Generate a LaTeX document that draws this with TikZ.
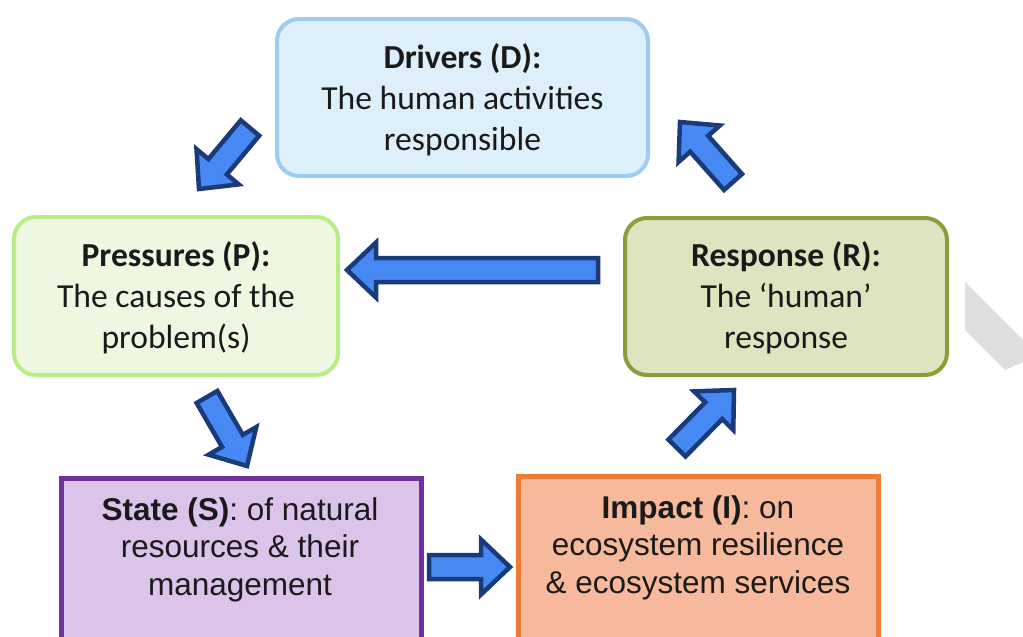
\documentclass[tikz,border=0pt]{standalone}
\usepackage{fontspec}
\setmainfont{Carlito}
\newfontfamily\arialf{Liberation Sans}
\usetikzlibrary{calc}
\definecolor{arrfill}{HTML}{4689F3}
\definecolor{arrdraw}{HTML}{1B3A7A}
\definecolor{dfill}{HTML}{DDEFFB}
\definecolor{ddraw}{HTML}{9DCBF2}
\definecolor{pfill}{HTML}{EEF8E0}
\definecolor{pdraw}{HTML}{B8EC86}
\definecolor{rfill}{HTML}{DFE3C0}
\definecolor{rdraw}{HTML}{8F9C3A}
\definecolor{sfill}{HTML}{DCC3EA}
\definecolor{sdraw}{HTML}{7030A0}
\definecolor{ifill}{HTML}{F6B99B}
\definecolor{idraw}{HTML}{EE7D33}
\definecolor{wmark}{HTML}{DEDEDE}
\definecolor{txt}{HTML}{1A1A1A}
\tikzset{
  rbox/.style={draw, line width=4pt, rounded corners=22pt, inner sep=0pt},
  sbox/.style={draw, line width=5pt, inner sep=0pt},
  ctext/.style={align=center, text=txt, font=\fontsize{33.6}{41}\selectfont},
  atext/.style={align=center, text=txt, font=\arialf\fontsize{31.5}{37.5}\selectfont},
  blockarr/.style={fill=arrfill, draw=arrdraw, line width=4.5pt, line join=miter},
}
\newcommand\blockarrow[2]{%
  \coordinate (#1h) at ($(#2)!29pt!(#1)$);
  \draw[blockarr] ($(#1)!12pt!90:(#2)$) -- ($(#1h)!12pt!90:(#2)$) -- ($(#1h)!27.5pt!90:(#2)$) -- (#2)
    -- ($(#1h)!27.5pt!-90:(#2)$) -- ($(#1h)!12pt!-90:(#2)$) -- ($(#1)!12pt!-90:(#2)$) -- cycle;
}
\begin{document}
\begin{tikzpicture}[x=1pt,y=-1pt]
\useasboundingbox (0,0) rectangle (1023,637);
\clip (0,0) rectangle (1023,637);
\fill[white] (0,0) rectangle (1023,637);
% watermark fragment
\fill[wmark] (965,282) -- (1023,340) -- (1023,362) -- (1005,370) -- (965,330) -- cycle;
% boxes
\node[rbox, fill=dfill, draw=ddraw, minimum width=371pt, minimum height=157pt] (D) at (462.5,97.5) {};
\node[ctext] (Dt) at (462.5,100) {\textbf{Drivers (D):}\\The human activities\\responsible};
\node[rbox, fill=pfill, draw=pdraw, minimum width=324pt, minimum height=158pt] (P) at (176,296) {};
\node[ctext] (Pt) at (176,298) {\textbf{Pressures (P):}\\The causes of the\\problem(s)};
\node[rbox, fill=rfill, draw=rdraw, minimum width=322pt, minimum height=157pt] (R) at (786,296.5) {};
\node[ctext] (Rt) at (786,298) {\textbf{Response (R):}\\The ‘human’\\response};
\node[sbox, fill=sfill, draw=sdraw, minimum width=360pt, minimum height=200pt] (S) at (241,578.5) {};
\node[atext] (St) at (240,549.5) {\textbf{State (S)}: of natural\\resources \& their\\management};
\node[sbox, fill=ifill, draw=idraw, minimum width=360pt, minimum height=200pt] (I) at (698,576.5) {};
\node[atext] (It) at (698,547.5) {\textbf{Impact (I)}: on\\ecosystem resilience\\\& ecosystem services};
% arrow end points
\coordinate (dpA) at (250,128);  \coordinate (dpB) at (199,189);
\coordinate (rdA) at (733,182);  \coordinate (rdB) at (680,122);
\coordinate (rpA) at (598,270);  \coordinate (rpB) at (347,270);
\coordinate (psA) at (207,397);  \coordinate (psB) at (247,466);
\coordinate (irA) at (677,448);  \coordinate (irB) at (734,390);
\coordinate (siA) at (429,567);  \coordinate (siB) at (510,567);
\blockarrow{dpA}{dpB}
\blockarrow{rdA}{rdB}
\blockarrow{rpA}{rpB}
\blockarrow{psA}{psB}
\blockarrow{irA}{irB}
\blockarrow{siA}{siB}
\end{tikzpicture}
\end{document}
